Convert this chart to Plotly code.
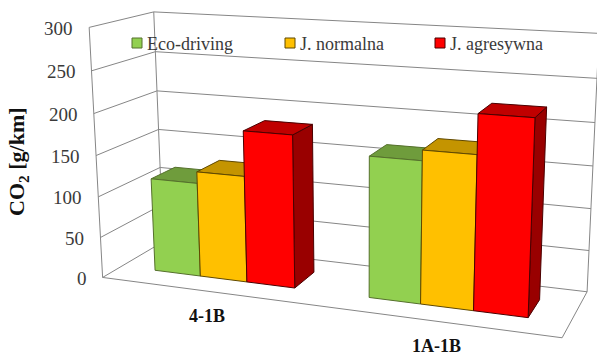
import numpy as np
import plotly.graph_objects as go

categories = ["4-1B", "1A-1B"]
series_names = ["Eco-driving", "J. normalna", "J. agresywna"]
eco_driving = [115, 166]
j_normalna = [129, 178]
j_agresywna = [183, 223]
y_ticks = [0, 50, 100, 150, 200, 250, 300]
y_title = "CO<sub>2</sub> [g/km]"

face_colors = ["#92D050", "#FFC000", "#FF0000"]
top_colors = ["#6F9C3C", "#C49400", "#C00000"]
side_colors = ["#5F8530", "#A07800", "#990000"]
edge_colors = ["#55702C", "#5F4800", "#4A0000"]
GRID = "#868686"
TEXT = "#3A3A3A"
FONT = "Liberation Serif"

# Perspective of the reference's 3-D view: (category, depth, value/100) -> page
VIEW = np.array([[194.705954, 75.429484, -5.946317, 102.624538],
                 [9.110942, -13.635088, -83.801216, 277.436329],
                 [-0.062332, 0.091255, -0.016372, 1.0]])
GAP = 1.5       # gap width, in bar widths
DEPTH = (0.3, 0.7)


def pr(x, y, z):
    h = VIEW @ np.array([x, y, z / 100.0, 1.0])
    return h[0] / h[2], h[1] / h[2]


def line(p, q, color=GRID):
    a, b = pr(*p), pr(*q)
    return go.Scatter(x=[a[0], b[0]], y=[a[1], b[1]], mode="lines",
                      line=dict(color=color, width=1), hoverinfo="skip", showlegend=False)


def face(corners, fill, edge):
    pts = [pr(*c) for c in corners] + [pr(*corners[0])]
    return go.Scatter(x=[p[0] for p in pts], y=[p[1] for p in pts], mode="lines",
                      fill="toself", fillcolor=fill,
                      line=dict(color=edge, width=1), hoverinfo="skip", showlegend=False)


fig = go.Figure()
xmax = len(categories)
top = y_ticks[-1]
for k in y_ticks:
    fig.add_trace(line((0, 0, k), (0, 1, k)))
    fig.add_trace(line((0, 1, k), (xmax, 1, k)))
fig.add_trace(line((0, 0, 0), (0, 0, top)))
fig.add_trace(line((0, 1, 0), (0, 1, top)))
fig.add_trace(line((xmax, 1, 0), (xmax, 1, top)))
fig.add_trace(line((0, 0, 0), (xmax, 0, 0)))
fig.add_trace(line((xmax, 0, 0), (xmax, 1, 0)))

all_series = [eco_driving, j_normalna, j_agresywna]
width = 1.0 / (len(all_series) + GAP)
y0, y1 = DEPTH
for c in range(len(categories)):
    for s, values in enumerate(all_series):
        v = values[c]
        x0 = c + width * (GAP / 2 + s)
        x1 = x0 + width
        fig.add_trace(face([(x1, y0, 0), (x1, y1, 0), (x1, y1, v), (x1, y0, v)], side_colors[s], edge_colors[s]))
        fig.add_trace(face([(x0, y0, v), (x1, y0, v), (x1, y1, v), (x0, y1, v)], top_colors[s], edge_colors[s]))
        fig.add_trace(face([(x0, y0, 0), (x1, y0, 0), (x1, y0, v), (x0, y0, v)], face_colors[s], edge_colors[s]))

annotations = []
for k in y_ticks:
    px, py = pr(0, 0, k)
    annotations.append(dict(x=px - 14, y=py + 1, text=str(k), xanchor="right", yanchor="middle",
                            showarrow=False, font=dict(family=FONT, size=19, color=TEXT)))
for c, name in enumerate(categories):
    px, py = pr(c + 0.5, 0, 0)
    annotations.append(dict(x=px + 1, y=py + 25, text="<b>%s</b>" % name, xanchor="center", yanchor="middle",
                            showarrow=False, font=dict(family=FONT, size=18, color="#111111")))
annotations.append(dict(x=18, y=162, text="<b>%s</b>" % y_title, textangle=-90, xanchor="center",
                        yanchor="middle", showarrow=False, font=dict(family=FONT, size=22, color="#111111")))

legend_x = [137, 290, 440]
legend_y = 43
for s, name in enumerate(series_names):
    fig.add_trace(go.Scatter(x=[legend_x[s]], y=[legend_y], mode="markers",
                             marker=dict(symbol="square", size=10, color=face_colors[s],
                                         line=dict(color=edge_colors[s], width=1)),
                             hoverinfo="skip", showlegend=False))
    annotations.append(dict(x=legend_x[s] + 8, y=legend_y + 1, text=name, xanchor="left", yanchor="middle",
                            showarrow=False, font=dict(family=FONT, size=18, color=TEXT)))

fig.update_layout(
    width=597, height=353, margin=dict(l=0, r=0, t=0, b=0),
    paper_bgcolor="white", plot_bgcolor="white", showlegend=False, annotations=annotations,
    xaxis=dict(range=[0, 597], visible=False, fixedrange=True),
    yaxis=dict(range=[353, 0], visible=False, fixedrange=True),
)
fig.write_html("out.html", config=dict(displayModeBar=False),
               post_script="document.body.style.margin='0';document.body.style.overflow='hidden';")
